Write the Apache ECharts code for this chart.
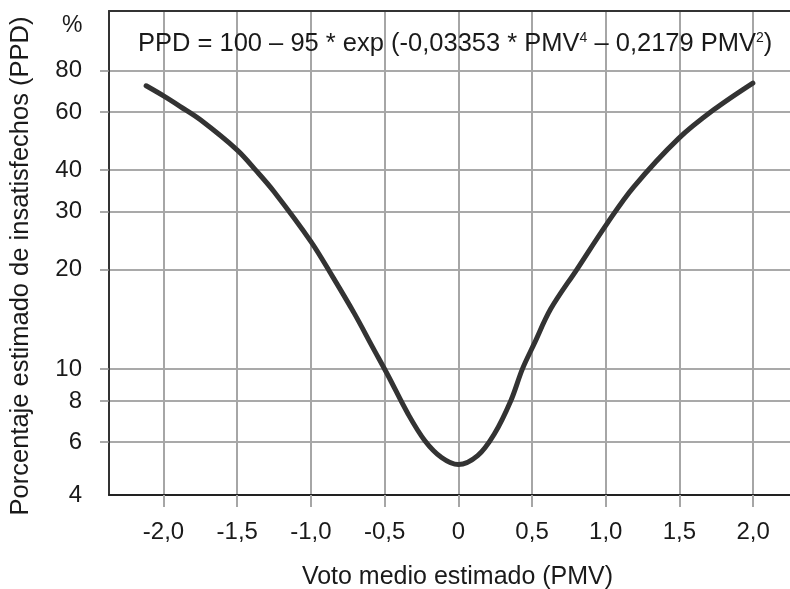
<!DOCTYPE html>
<html>
<head>
<meta charset="utf-8">
<script src="https://cdn.jsdelivr.net/npm/echarts@6/dist/echarts.min.js"></script>
<style>
  html, body { margin: 0; padding: 0; background: #fff; }
  #chart { width: 790px; height: 589px; }
</style>
</head>
<body>
<div id="chart"></div>
<script>
// PMV values (x) and PPD values (%)
const pmv = [-2.118, -2.0, -1.886, -1.75, -1.5, -1.375, -1.25, -1.0, -0.852, -0.705, -0.58, -0.477, -0.341, -0.227, -0.114, 0.0, 0.131, 0.244, 0.356, 0.435, 0.514, 0.627, 0.807, 1.01, 1.19, 1.495, 1.732, 1.998];
const ppd = [72.0, 67.1, 62.3, 56.8, 46.0, 40.0, 34.4, 24.3, 19.0, 14.7, 11.6, 9.55, 7.30, 6.06, 5.39, 5.13, 5.46, 6.35, 8.01, 10.0, 11.9, 15.2, 20.1, 27.6, 35.6, 49.9, 60.9, 73.4];

// Axis ticks
const xTicks = [-2, -1.5, -1, -0.5, 0, 0.5, 1, 1.5, 2];
const yTicks = [6, 8, 10, 20, 30, 40, 60, 80];
const yLabelValues = [4.15, 6, 8, 10, 20, 30, 40, 60, 80];

const xMin = -2.37, xMax = 2.25;
const yMin = 4.15, yMax = 121.3;

const FONT = '"Liberation Sans", Arial, sans-serif';
const TXT = '#1a1a1a';

const chart = echarts.init(document.getElementById('chart'), null, { renderer: 'canvas' });

const option = {
  backgroundColor: '#ffffff',
  animation: false,
  textStyle: { fontFamily: FONT },
  title: [
    {
      text: 'PPD = 100 – 95 * exp (-0,03353 * PMV{sup|4} – 0,2179 PMV{sup|2})',
      left: 133, top: 26,
      textStyle: {
        fontFamily: FONT, fontSize: 25.5, fontWeight: 'normal', color: TXT,
        rich: {
          sup: { fontFamily: FONT, fontSize: 14, verticalAlign: 'top', color: TXT, padding: [0, 0, 8, 0] }
        }
      }
    },
    {
      text: '%',
      left: 57, top: 9,
      textStyle: { fontFamily: FONT, fontSize: 23, fontWeight: 'normal', color: TXT }
    }
  ],
  grid: { left: 109, right: 0, top: 11, bottom: 94, containLabel: false, outerBoundsMode: 'none' },
  xAxis: [
    {
      type: 'value',
      min: xMin, max: xMax,
      name: 'Voto medio estimado (PMV)',
      nameLocation: 'middle',
      nameGap: 70,
      nameTextStyle: { fontFamily: FONT, fontSize: 25, color: TXT, padding: [0, 0, 0, 16] },
      axisLine: { show: true, onZero: false, lineStyle: { color: '#222', width: 2 } },
      axisTick: { show: true, customValues: xTicks, length: 12, lineStyle: { color: '#a6a6a6', width: 2 } },
      axisLabel: {
        customValues: xTicks, margin: 25,
        fontFamily: FONT, fontSize: 24, color: TXT,
        formatter: v => (Math.abs(v) < 1e-9 ? '0' : v.toFixed(1).replace('.', ','))
      },
      splitLine: { show: true, lineStyle: { color: '#a6a6a6', width: 2 } }
    },
    {
      type: 'value',
      position: 'top',
      min: xMin, max: xMax,
      axisLine: { show: true, onZero: false, lineStyle: { color: '#333', width: 2 } },
      axisTick: { show: false },
      axisLabel: { show: false },
      splitLine: { show: false }
    }
  ],
  yAxis: {
    type: 'log',
    logBase: 10,
    min: yMin, max: yMax,
    name: 'Porcentaje estimado de insatisfechos (PPD)',
    nameLocation: 'middle',
    nameGap: 75,
    nameRotate: 90,
    nameTextStyle: { fontFamily: FONT, fontSize: 25.5, color: TXT, padding: [0, 26, 0, 0] },
    axisLine: { show: true, onZero: false, lineStyle: { color: '#333', width: 2 } },
    axisTick: { show: true, customValues: yTicks, length: 9, lineStyle: { color: '#8c8c8c', width: 1.5 } },
    axisLabel: {
      customValues: yLabelValues, margin: 27,
      fontFamily: FONT, fontSize: 24, color: TXT,
      formatter: v => (v < 5 ? '4' : String(Math.round(v)))
    },
    minorTick: { show: false },
    minorSplitLine: { show: false },
    splitLine: { show: true, lineStyle: { color: '#8c8c8c', width: 1.5 } }
  },
  series: [
    {
      type: 'line',
      xAxisIndex: 0,
      data: pmv.map((v, i) => [v, ppd[i]]),
      smooth: 0.35,
      showSymbol: false,
      symbol: 'none',
      lineStyle: { color: '#333333', width: 5, cap: 'round' },
      z: 5
    }
  ]
};

chart.setOption(option);
</script>
</body>
</html>
